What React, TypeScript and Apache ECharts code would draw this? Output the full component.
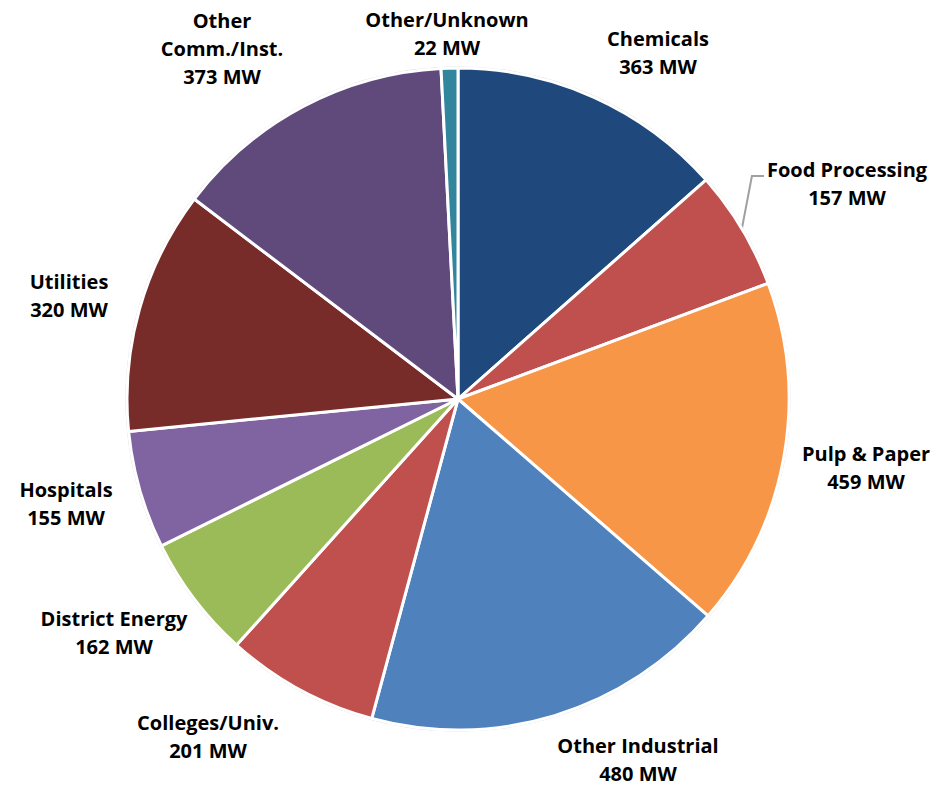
import React, { useEffect, useRef } from 'react';
import * as echarts from 'echarts';

// ---- Data ----
const categories = [
  'Chemicals',
  'Food Processing',
  'Pulp & Paper',
  'Other Industrial',
  'Colleges/Univ.',
  'District Energy',
  'Hospitals',
  'Utilities',
  'Other Comm./Inst.',
  'Other/Unknown',
];
const capacityMW = [363, 157, 459, 480, 201, 162, 155, 320, 373, 22];

// ---- Styles / layout ----
const sliceColors = [
  '#1F497D',
  '#C0504D',
  '#F79646',
  '#4F81BD',
  '#C0504D',
  '#9BBB59',
  '#8064A2',
  '#772C2A',
  '#604A7B',
  '#31859C',
];
const CENTER: [number, number] = [458, 399];
const RADIUS = 331;
// label block centres (pixels)
const LABEL_POS: [number, number][] = [
  [658, 52],
  [847, 183],
  [866, 467],
  [638, 759],
  [208, 736],
  [114, 632],
  [66, 503],
  [69, 295],
  [222, 48],
  [447, 33],
];
const LEADER_INDEX = 1;

export default function App() {
  const ref = useRef<HTMLDivElement>(null);

  useEffect(() => {
    if (!ref.current) return;
    const chart = echarts.init(ref.current, undefined, { renderer: 'svg' });
    const total = capacityMW.reduce((a, b) => a + b, 0);

    const midAngle = (i: number) => {
      let before = 0;
      for (let k = 0; k < i; k++) before += capacityMW[k];
      return ((before + capacityMW[i] / 2) / total) * Math.PI * 2;
    };

    const data = categories.map((name, i) => ({
      name,
      value: capacityMW[i],
      itemStyle: { color: sliceColors[i] },
      labelLine:
        i === LEADER_INDEX
          ? { show: true, lineStyle: { color: '#A0A0A0', width: 2 } }
          : { show: false },
    }));

    chart.setOption({
      animation: false,
      backgroundColor: '#ffffff',
      series: [
        {
          type: 'pie',
          silent: true,
          center: CENTER,
          radius: [RADIUS + 0.5, RADIUS + 1.5],
          data: [{ value: 1, itemStyle: { color: '#CFCFCF' } }],
          label: { show: false },
          labelLine: { show: false },
          z: 1,
        },
        {
          type: 'pie',
          center: CENTER,
          radius: RADIUS,
          startAngle: 90,
          clockwise: true,
          avoidLabelOverlap: false,
          z: 2,
          itemStyle: { borderColor: '#ffffff', borderWidth: 3 },
          label: {
            show: true,
            position: 'outside',
            formatter: (p: any) =>
              `${String(p.name).replace('Other Comm.', 'Other\nComm.')}\n${p.value} MW`,
            fontFamily: '"Open Sans", sans-serif',
            fontWeight: 'bold',
            fontSize: 20,
            lineHeight: 28,
            color: '#000000',
          },
          labelLine: { show: false },
          labelLayout: (params: any) => {
            const i = params.dataIndex;
            const [x, y] = LABEL_POS[i];
            const out: any = { x, y, align: 'center', verticalAlign: 'middle' };
            if (i === LEADER_INDEX) {
              const a = midAngle(i);
              const sx = CENTER[0] + RADIUS * Math.sin(a);
              const sy = CENTER[1] - RADIUS * Math.cos(a);
              const left = x - params.labelRect.width / 2;
              out.labelLinePoints = [
                [sx, sy],
                [left - 15, y - 7],
                [left - 3, y - 7],
              ];
            }
            return out;
          },
          data,
        },
      ],
    });

    return () => chart.dispose();
  }, []);

  return (
    <div
      ref={ref}
      style={{ position: 'absolute', left: 0, top: 0, width: 945, height: 788 }}
    />
  );
}
